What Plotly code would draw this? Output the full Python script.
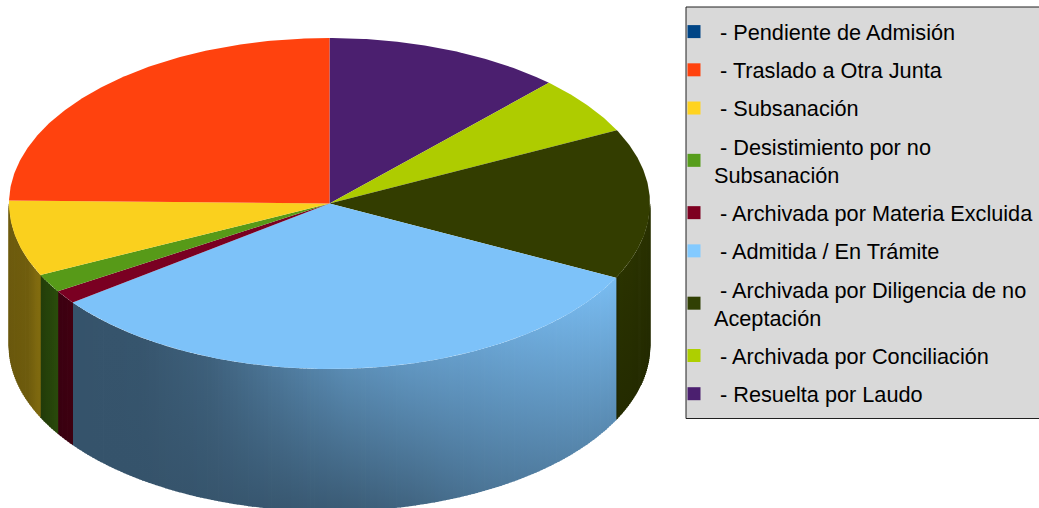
import numpy as np
import plotly.graph_objects as go

# data, clockwise from 12 o'clock
categories = ["Resuelta por Laudo", "Archivada por Conciliación", "Archivada por Diligencia de no Aceptación",
              "Admitida / En Trámite", "Archivada por Materia Excluida", "Desistimiento por no Subsanación",
              "Subsanación", "Traslado a Otra Junta", "Pendiente de Admisión"]
values = [12.0, 5.7, 14.7, 32.4, 1.3, 1.8, 7.4, 24.7, 0.0]
legend_order = ["Pendiente de Admisión", "Traslado a Otra Junta", "Subsanación", "Desistimiento por no Subsanación",
                "Archivada por Materia Excluida", "Admitida / En Trámite", "Archivada por Diligencia de no Aceptación",
                "Archivada por Conciliación", "Resuelta por Laudo"]
legend_labels = {"Desistimiento por no Subsanación": "Desistimiento por no<br>Subsanación",
                 "Archivada por Diligencia de no Aceptación": "Archivada por Diligencia de no<br>Aceptación"}

# style
colors = {"Pendiente de Admisión": "#004586", "Traslado a Otra Junta": "#ff420e", "Subsanación": "#ffd320",
          "Desistimiento por no Subsanación": "#579d1c", "Archivada por Materia Excluida": "#7e0021",
          "Admitida / En Trámite": "#83caff", "Archivada por Diligencia de no Aceptación": "#314004",
          "Archivada por Conciliación": "#aecf00", "Resuelta por Laudo": "#4b1f6f"}
top_colors = dict(colors)
top_colors.update({"Traslado a Otra Junta": "#ff420e", "Subsanación": "#fad01e", "Admitida / En Trámite": "#7dc2f9",
                   "Archivada por Diligencia de no Aceptación": "#333d00", "Archivada por Materia Excluida": "#7a0022",
                   "Desistimiento por no Subsanación": "#579a18", "Archivada por Conciliación": "#aecc00"})

CX, CY, RX, RY, DEPTH = 329.5, 203.5, 320.5, 165.5, 142.5
PAGE_W, PAGE_H = 1039, 508


def hex_rgb(h):
    return np.array([int(h[i:i + 2], 16) for i in (1, 3, 5)], float)


def shade(h, f):
    r, g, b = np.clip(hex_rgb(h) * f, 0, 255).astype(int)
    return f"rgb({r},{g},{b})"


def ex(t):
    return CX + RX * np.sin(t)


def ey(t):
    return CY - RY * np.cos(t)


fig = go.Figure()

edges = np.radians(np.concatenate([[0], np.cumsum(values)]) / sum(values) * 360)

# side walls: brightness across each wall (left to right) at its upper and lower edge
blue_t = [0, .12, .25, .38, .5, .62, .75, .88, 1]
blue_top = [.43, .44, .50, .62, .72, .78, .83, .90, .97]
blue_bot = [.43, .43, .44, .45, .47, .52, .60, .66, .72]
wall_profile = {
    "Subsanación": ([0, .6, .9, 1], [.44, .45, .52, .52], [.42, .44, .50, .50]),
    "Desistimiento por no Subsanación": ([0, 1], [.40, .50], [.38, .48]),
    "Archivada por Materia Excluida": ([0, .4, 1], [.50, .50, .55], [.46, .48, .50]),
    "Admitida / En Trámite": (blue_t, blue_top, blue_bot),
    "Archivada por Diligencia de no Aceptación": ([0, .12, 1], [.66, .84, .80], [.60, .72, .68]),
}
for i, name in enumerate(categories):
    a, b = edges[i], edges[i + 1]
    lo, hi = max(a, np.pi / 2), min(b, 3 * np.pi / 2)
    if hi <= lo or name not in wall_profile:
        continue
    prof = wall_profile[name]
    n = max(2, int((hi - lo) / np.radians(0.7)))
    grid = np.linspace(lo, hi, n + 1)
    xa, xb = ex(lo), ex(hi)
    for j in range(n):
        t0, t1 = grid[j], grid[j + 1]
        ts = np.linspace(t0, t1, 3)
        s = (ex(0.5 * (t0 + t1)) - min(xa, xb)) / abs(xb - xa)
        ftop = np.interp(s, prof[0], prof[1])
        fbot = np.interp(s, prof[0], prof[2])
        xs = ex(ts)
        xs_p = np.concatenate([xs, xs[::-1]])
        ys_p = np.concatenate([ey(ts), ey(ts[::-1]) + DEPTH])
        # widen by a hair so neighbouring strips leave no seam
        xs_p[xs_p == xs_p.max()] += 0.4
        xs_p[xs_p == xs_p.min()] -= 0.4
        base = top_colors[name]
        fig.add_trace(go.Scatter(
            x=np.r_[xs_p, xs_p[0]], y=np.r_[ys_p, ys_p[0]], mode="lines", line=dict(width=0),
            fill="toself", showlegend=False, hoverinfo="skip",
            fillgradient=dict(type="vertical",
                              colorscale=[[0, shade(base, fbot)], [1, shade(base, ftop)]]),
        ))

# top faces
for i, name in enumerate(categories):
    if values[i] <= 0:
        continue
    ts = np.linspace(edges[i], edges[i + 1], max(3, int(np.degrees(edges[i + 1] - edges[i]) * 2)))
    fig.add_trace(go.Scatter(
        x=np.r_[CX, ex(ts), CX], y=np.r_[CY, ey(ts), CY], mode="lines", line=dict(width=0),
        fill="toself", fillcolor=top_colors[name], showlegend=False, name=name, hoverinfo="name",
    ))

# legend entries
for name in legend_order:
    label = legend_labels.get(name, name)
    fig.add_trace(go.Scatter(
        x=[None], y=[None], mode="markers", name="\u00a0- " + label, legendgroup=name,
        marker=dict(symbol="square", size=13, color=colors[name], line=dict(width=0)),
    ))

fig.add_shape(type="rect", x0=686, x1=1045, y0=7, y1=418.5, line=dict(color="#202020", width=1),
              fillcolor="#d9d9d9", layer="below")

fig.update_layout(
    margin=dict(l=0, r=0, t=0, b=0), paper_bgcolor="white", plot_bgcolor="white",
    width=PAGE_W, height=PAGE_H,
    xaxis=dict(range=[0, PAGE_W], visible=False, fixedrange=True),
    yaxis=dict(range=[PAGE_H, 0], visible=False, fixedrange=True),
    legend=dict(x=674 / PAGE_W, y=1 - 11 / PAGE_H, xanchor="left", yanchor="top", bgcolor="rgba(0,0,0,0)",
                font=dict(family="Liberation Sans", size=21.7, color="black"), tracegroupgap=7,
                itemclick=False, itemdoubleclick=False),
    font=dict(family="Liberation Sans"), showlegend=True,
)
fig.write_html("out.html", config={"responsive": False, "displayModeBar": False},
               post_script="document.body.style.margin='0';document.documentElement.style.overflow='hidden';")
